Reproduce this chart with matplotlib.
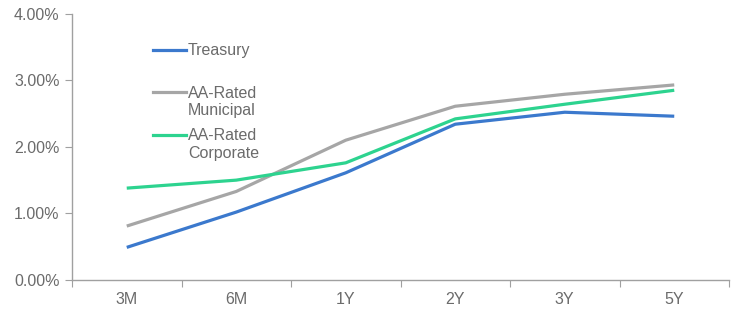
import matplotlib
matplotlib.use("Agg")
import matplotlib.pyplot as plt
from matplotlib.lines import Line2D
from matplotlib.ticker import FuncFormatter, FixedLocator

plt.rcParams['font.family'] = ['Liberation Sans', 'DejaVu Sans']

categories = ["3M", "6M", "1Y", "2Y", "3Y", "5Y"]
treasury = [0.49, 1.02, 1.61, 2.34, 2.52, 2.46]
municipal = [0.81, 1.33, 2.10, 2.61, 2.79, 2.93]
corporate = [1.38, 1.50, 1.76, 2.42, 2.64, 2.85]
series_names = ["Treasury", "AA-Rated\nMunicipal", "AA-Rated\nCorporate"]
colors = ["#3B79CD", "#A6A6A6", "#2DD38F"]

text_color = "#6B6B6B"
spine_color = "#A0A0A0"
fs = 11.5

fig = plt.figure(figsize=(7.38, 3.09), dpi=100)
W, H = 738, 309
ax = fig.add_axes([72 / W, 1 - 280 / H, (729 - 72) / W, (280 - 13.7) / H])

x = list(range(len(categories)))
for vals, c in zip([treasury, municipal, corporate], colors):
    ax.plot(x, vals, color=c, lw=2.3, solid_capstyle='butt', solid_joinstyle='round')

ax.set_xlim(-0.5, len(categories) - 0.5)
ax.set_ylim(0, 4)
ax.yaxis.set_major_locator(FixedLocator([0, 1, 2, 3, 4]))
ax.yaxis.set_major_formatter(FuncFormatter(lambda v, p: f"{v:.2f}%"))

ax.xaxis.set_major_locator(FixedLocator([i - 0.5 for i in range(len(categories) + 1)]))
ax.xaxis.set_major_formatter(FuncFormatter(lambda v, p: ""))
ax.xaxis.set_minor_locator(FixedLocator(x))
ax.set_xticklabels(categories, minor=True)

for s in ["top", "right"]:
    ax.spines[s].set_visible(False)
for s in ["left", "bottom"]:
    ax.spines[s].set_color(spine_color)
    ax.spines[s].set_linewidth(1.0)

ax.tick_params(axis='y', which='major', length=5, color=spine_color, labelcolor=text_color,
               labelsize=fs, pad=4)
ax.tick_params(axis='x', which='major', length=5, color=spine_color)
ax.tick_params(axis='x', which='minor', length=0, labelcolor=text_color, labelsize=fs, pad=9)

# legend (manual)
leg_y = [50, 92, 135]
for name, c, yy in zip(series_names, colors, leg_y):
    fig.add_artist(Line2D([153 / W, 186 / W], [1 - yy / H, 1 - yy / H], color=c, lw=2.3,
                          transform=fig.transFigure))
    fig.text(188 / W, 1 - (yy - 6.5) / H, name, color=text_color, fontsize=fs,
             va='top', ha='left', linespacing=1.18)

fig.savefig("out.png", dpi=100)
